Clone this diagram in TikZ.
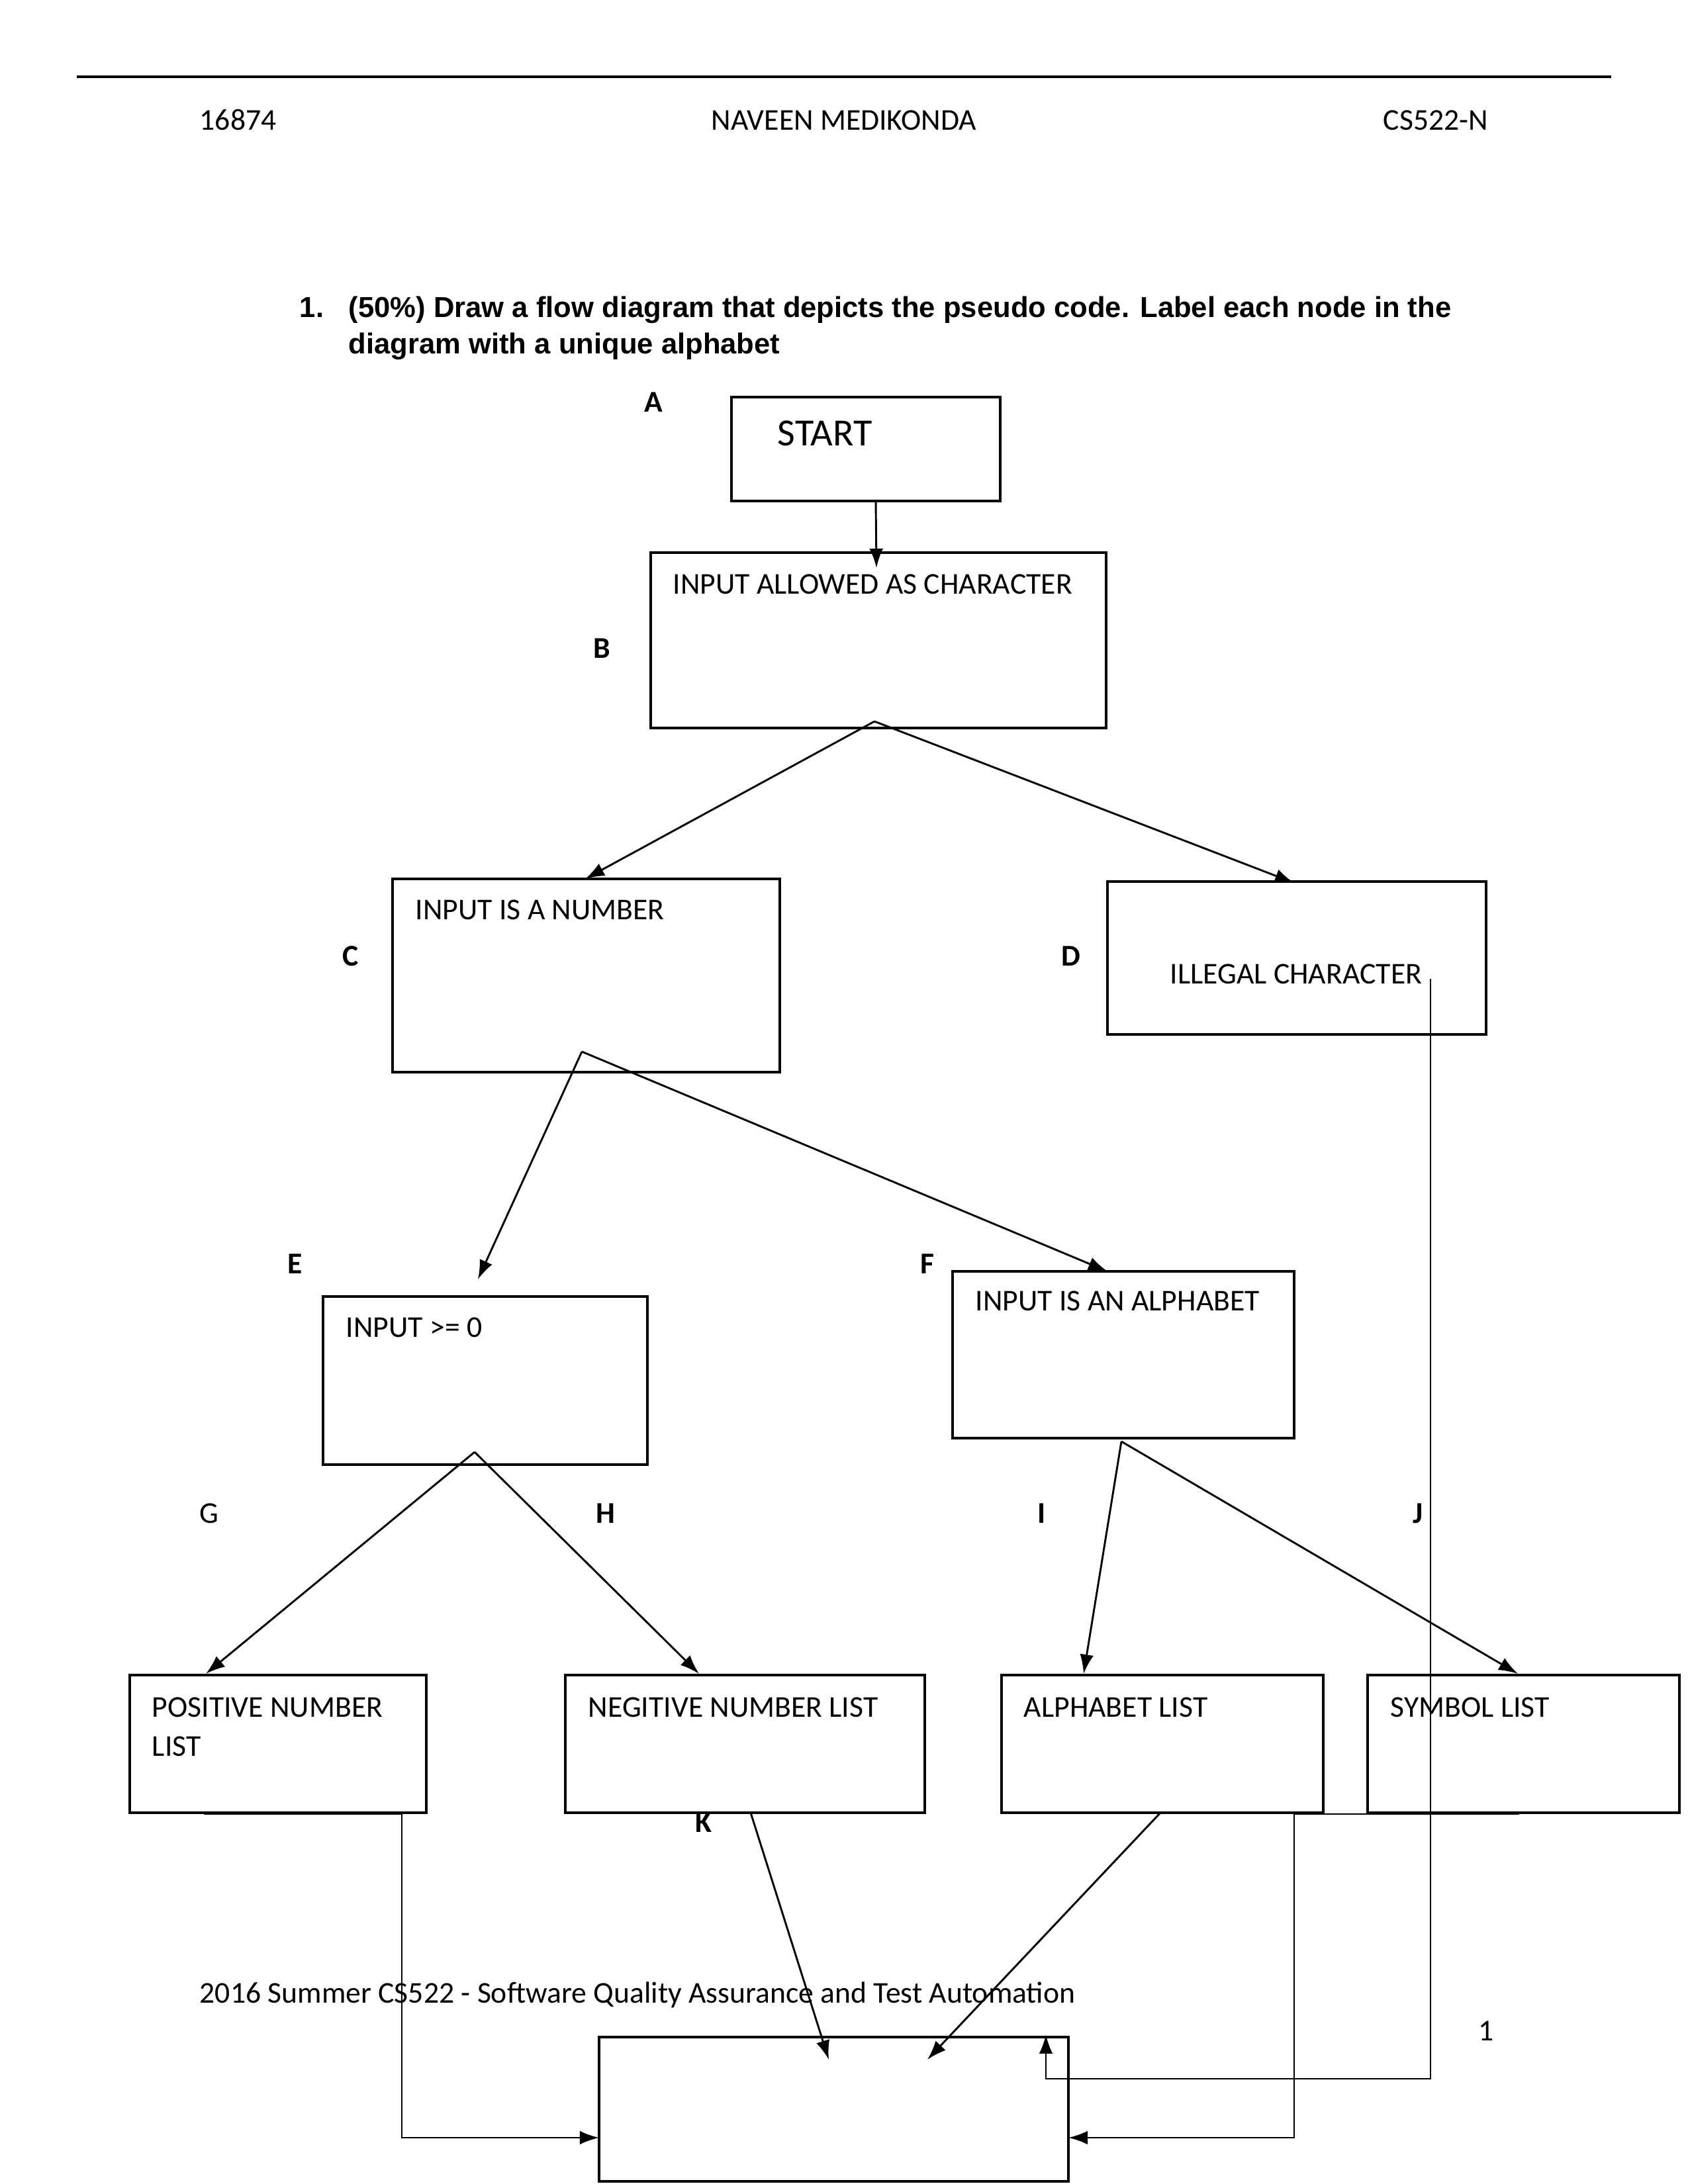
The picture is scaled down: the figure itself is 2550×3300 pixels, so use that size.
\documentclass[tikz,border=0pt]{standalone}
\usepackage{fontspec}
\setmainfont{Carlito}
\newfontfamily\arialfont{Liberation Sans}
\usetikzlibrary{arrows.meta,fit}
\begin{document}
\begin{tikzpicture}[x=0.2409pt,y=-0.2409pt,
  box/.style={draw, line width=0.75pt, inner sep=0pt},
  conn/.style={line width=0.7pt},
  arr/.style={conn,-{Latex[length=7pt,width=5pt]}},
  txt/.style={anchor=base west, inner sep=0pt, font=\fontsize{11}{13}\selectfont},
  lbl/.style={inner sep=0pt, font=\fontsize{11}{13}\selectfont\bfseries},
  lblr/.style={inner sep=0pt, font=\fontsize{11}{13}\selectfont},
  qtxt/.style={anchor=base west, inner sep=0pt, font=\arialfont\fontsize{10.5}{12}\selectfont\bfseries},
]
\useasboundingbox (0,0) rectangle (2550,3300);

% header
\coordinate (hl) at (116,116);
\coordinate (hr) at (2434,116);
\draw[line width=1pt] (hl) -- (hr);
\node[txt] (h1) at (301,196) {16874};
\node[anchor=base, inner sep=0pt, font=\fontsize{11}{13}\selectfont] (h2) at (1275,196) {NAVEEN MEDIKONDA};
\node[anchor=base east, inner sep=0pt, font=\fontsize{11}{13}\selectfont] (h3) at (2249,196) {CS522-N};

% question
\node[qtxt] (qn) at (452,479) {1.};
\node[qtxt] (q1) at (526,479) {(50\%) Draw a flow diagram that depicts the pseudo code. Label each node in the};
\node[qtxt] (q2) at (526,534) {diagram with a unique alphabet};

% boxes
\node[box, fit={(1105,600)(1511,757)}] (A) {};
\node[box, fit={(983,835)(1671,1100)}] (B) {};
\node[box, fit={(593,1328)(1178,1620)}] (C) {};
\node[box, fit={(1673,1332)(2245,1563)}] (D) {};
\node[box, fit={(488,1959)(978,2213)}] (E) {};
\node[box, fit={(1439,1921)(1955,2173)}] (F) {};
\node[box, fit={(196,2531)(644,2739)}] (P) {};
\node[box, fit={(854,2531)(1397,2739)}] (N) {};
\node[box, fit={(1513,2531)(1999,2739)}] (AL) {};
\node[box, fit={(2066,2531)(2537,2739)}] (S) {};
\node[box, fit={(905,3078)(1614,3296)}] (K) {};

% box texts
\node[anchor=base west, inner sep=0pt, font=\fontsize{14}{16}\selectfont] (tA) at (1174,673) {START};
\node[txt] (tB) at (1016,897) {INPUT ALLOWED AS CHARACTER};
\node[txt] (tC) at (627,1389) {INPUT IS A NUMBER};
\node[txt] (tD) at (1767,1486) {ILLEGAL CHARACTER};
\node[txt] (tE) at (522,2020) {INPUT >= 0};
\node[txt] (tF) at (1473,1980) {INPUT IS AN ALPHABET};
\node[txt] (tP1) at (229,2594) {POSITIVE NUMBER};
\node[txt] (tP2) at (229,2653) {LIST};
\node[txt] (tN) at (888,2594) {NEGITIVE NUMBER LIST};
\node[txt] (tAL) at (1546,2594) {ALPHABET LIST};
\node[txt] (tS) at (2100,2594) {SYMBOL LIST};

% letter labels
\node[lbl] (lA) at (987,608) {A};
\node[lbl] (lB) at (909,980) {B};
\node[lbl] (lC) at (530,1445) {C};
\node[lbl] (lD) at (1618,1445) {D};
\node[lbl] (lE) at (446,1910) {E};
\node[lbl] (lF) at (1401,1910) {F};
\node[lblr] (lG) at (316,2287) {G};
\node[lbl] (lH) at (915,2287) {H};
\node[lbl] (lI) at (1574,2287) {I};
\node[lbl] (lJ) at (2142,2287) {J};
\node[lbl] (lK) at (1063,2754) {K};

% footer
\node[txt] (ft) at (301,3026) {2016 Summer CS522 - Software Quality Assurance and Test Automation};
\node[txt] (pg) at (2233,3083) {1};

% connector points
\coordinate (aOut) at (1323,757);
\coordinate (bIn) at (1324,858);
\coordinate (bFork) at (1321,1090);
\coordinate (cIn) at (884,1328);
\coordinate (dIn) at (1955,1334);
\coordinate (cFork) at (879,1589);
\coordinate (eIn) at (722,1933);
\coordinate (fIn) at (1673,1921);
\coordinate (eFork) at (717,2194);
\coordinate (gIn) at (311,2529);
\coordinate (hIn) at (1056,2529);
\coordinate (fFork) at (1694,2178);
\coordinate (iIn) at (1637,2529);
\coordinate (jIn) at (2293,2529);
\coordinate (nOut) at (1134,2739);
\coordinate (kIn1) at (1252,3112);
\coordinate (alOut) at (1753,2739);
\coordinate (kIn2) at (1401,3112);
\coordinate (pOut) at (308,2741);
\coordinate (pC1) at (607,2741);
\coordinate (pC2) at (607,3230);
\coordinate (kInL) at (905,3230);
\coordinate (sOut) at (2295,2741);
\coordinate (sC1) at (1955,2741);
\coordinate (sC2) at (1955,3230);
\coordinate (kInR) at (1614,3230);
\coordinate (dOut) at (2161,1479);
\coordinate (dC1) at (2161,3141);
\coordinate (dC2) at (1580,3141);
\coordinate (kInT) at (1580,3074);

% connectors
\draw[arr] (aOut) -- (bIn);
\draw[arr] (bFork) -- (cIn);
\draw[arr] (bFork) -- (dIn);
\draw[arr] (cFork) -- (eIn);
\draw[arr] (cFork) -- (fIn);
\draw[arr] (eFork) -- (gIn);
\draw[arr] (eFork) -- (hIn);
\draw[arr] (fFork) -- (iIn);
\draw[arr] (fFork) -- (jIn);
\draw[arr] (nOut) -- (kIn1);
\draw[arr] (alOut) -- (kIn2);
\draw[arr] (pOut) -- (pC1) -- (pC2) -- (kInL);
\draw[arr] (sOut) -- (sC1) -- (sC2) -- (kInR);
\draw[arr] (dOut) -- (dC1) -- (dC2) -- (kInT);
\end{tikzpicture}
\end{document}
